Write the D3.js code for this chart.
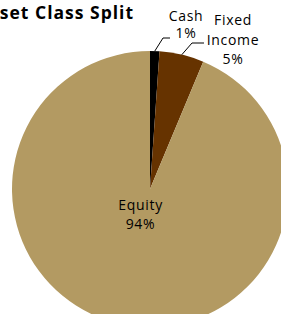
<!DOCTYPE html>
<html>
<head>
<meta charset="utf-8">
<script src="https://cdn.jsdelivr.net/npm/d3@7"></script>
<style>
  body { margin: 0; background: #fff; }
  svg { display: block; }
</style>
</head>
<body>
<div id="vis"></div>
<script>
// data
const categories = ['Cash', 'Fixed Income', 'Equity'];
const shares = [0.011, 0.052, 0.937];
const labelLines = [['Cash'], ['Fixed', 'Income'], ['Equity']];
const colours = ['#000000', '#663300', '#B39A62'];

const width = 281, height = 314;
const cx = 150, cy = 189, radius = 138;

const $svg = d3.select('#vis').append('svg')
  .attr('width', width)
  .attr('height', height);

// title, partly cut off on the left like the original
$svg.append('text')
  .attr('x', 134)
  .attr('y', 19)
  .attr('text-anchor', 'end')
  .attr('font-family', '"Open Sans", sans-serif')
  .attr('font-weight', 700)
  .attr('font-size', '17.5px')
  .attr('letter-spacing', '1px')
  .attr('fill', '#000')
  .text('Asset Class Split');

const data = categories.map((name, i) => ({ name, value: shares[i], lines: labelLines[i] }));

const colour = d3.scaleOrdinal().domain(categories).range(colours);
const fmt = d3.format('.0%');

const pie = d3.pie()
  .sort(null)
  .value(d => d.value);

const arc = d3.arc()
  .innerRadius(0)
  .outerRadius(radius);

const arcs = pie(data);

const $plot = $svg.append('g')
  .attr('transform', `translate(${cx}, ${cy})`);

$plot.selectAll('path.slice')
  .data(arcs)
  .enter()
  .append('path')
  .attr('class', 'slice')
  .attr('d', arc)
  .attr('fill', d => colour(d.data.name));

// label placement (offsets from the pie centre), tweaked to match excel
const layout = {
  'Cash':         { x: 36,  y: -168.5, lh: 17.5, leader: [[13, -151], [20, -151]] },
  'Fixed Income': { x: 83,  y: -164, lh: 19.5, leader: [[42, -146], [54, -146]] },
  'Equity':       { x: -9.5, y: 21,  lh: 19, leader: null }
};

const midPoint = d => {
  const a = (d.startAngle + d.endAngle) / 2;
  return [Math.sin(a) * radius, -Math.cos(a) * radius];
};

// leader lines
$plot.selectAll('path.leader')
  .data(arcs.filter(d => layout[d.data.name].leader))
  .enter()
  .append('path')
  .attr('class', 'leader')
  .attr('d', d => d3.line()([midPoint(d)].concat(layout[d.data.name].leader)))
  .attr('fill', 'none')
  .attr('stroke', '#000')
  .attr('stroke-width', 1);

const $labels = $plot.selectAll('text.lbl')
  .data(arcs)
  .enter()
  .append('text')
  .attr('class', 'lbl')
  .attr('text-anchor', 'middle')
  .attr('font-family', '"Open Sans", sans-serif')
  .attr('font-size', '14px')
  .attr('letter-spacing', '0.7px')
  .attr('fill', '#000')
  .attr('transform', d => `translate(${layout[d.data.name].x}, ${layout[d.data.name].y})`);

$labels.each(function(d) {
  const lines = d.data.lines.concat([fmt(d.data.value)]);
  const lh = layout[d.data.name].lh;
  d3.select(this).selectAll('tspan')
    .data(lines)
    .enter()
    .append('tspan')
    .attr('x', 0)
    .attr('y', (t, i) => i * lh)
    .text(t => t);
});
</script>
</body>
</html>
